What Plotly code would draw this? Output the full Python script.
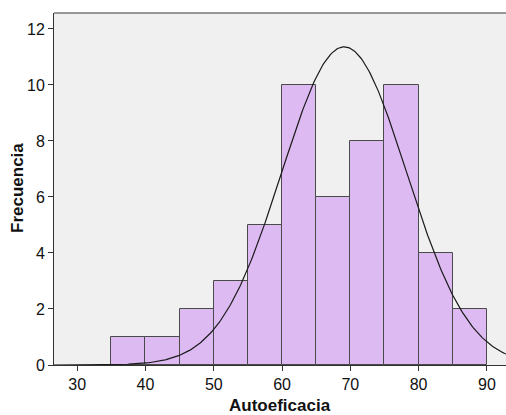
import numpy as np
import plotly.graph_objects as go

bin_starts = [35, 40, 45, 50, 55, 60, 65, 70, 75, 80, 85]
counts = [1, 1, 2, 3, 5, 10, 6, 8, 10, 4, 2]
bin_width = 5
mean_val = 69.1
sd_val = 9.13
x_ticks = [30, 40, 50, 60, 70, 80, 90]
y_ticks = [0, 2, 4, 6, 8, 10, 12]
x_title = "Autoeficacia"
y_title = "Frecuencia"

n = sum(counts)
centers = [s + bin_width / 2 for s in bin_starts]
xs = np.linspace(26.6, 92.8, 400)
ys = n * bin_width / (sd_val * np.sqrt(2 * np.pi)) * np.exp(-0.5 * ((xs - mean_val) / sd_val) ** 2)

fig = go.Figure()
fig.add_trace(go.Bar(
    x=centers, y=counts, width=bin_width,
    marker=dict(color="#DDBAF2", line=dict(color="#4a4a4a", width=1)),
    hoverinfo="skip", showlegend=False,
))
fig.add_trace(go.Scatter(
    x=xs, y=ys, mode="lines",
    line=dict(color="#1a1a1a", width=1.2),
    hoverinfo="skip", showlegend=False,
))

fig.update_layout(
    width=506, height=415,
    margin=dict(l=54, r=0, t=13, b=50),
    paper_bgcolor="white",
    plot_bgcolor="#F0F0F0",
    font=dict(family="Liberation Sans, Arial, sans-serif", size=16, color="#111"),
    bargap=0,
    xaxis=dict(
        range=[26.6, 92.8], tickvals=x_ticks, ticks="outside", ticklen=5,
        tickcolor="#333", showgrid=False, zeroline=False, automargin=False,
        showline=True, linecolor="#333", linewidth=1, mirror=False,
        tickfont=dict(size=16),
    ),
    yaxis=dict(
        range=[0, 12.57], tickvals=y_ticks, ticks="outside", ticklen=5,
        tickcolor="#333", showgrid=False, zeroline=False, automargin=False,
        showline=True, linecolor="#333", linewidth=1, mirror=False,
        tickfont=dict(size=16),
    ),
    shapes=[dict(type="line", xref="paper", yref="paper", x0=0, x1=1, y0=1, y1=1,
                 line=dict(color="#777", width=1.5))],
    annotations=[
        dict(text="<b>" + x_title + "</b>", xref="paper", yref="paper", x=0.5, y=0,
             xanchor="center", yanchor="middle", yshift=-40, showarrow=False,
             font=dict(size=17, color="#111")),
        dict(text="<b>" + y_title + "</b>", xref="paper", yref="paper", x=0, y=0.5,
             xanchor="center", yanchor="middle", xshift=-37, yshift=1, textangle=-90,
             showarrow=False, font=dict(size=17, color="#111")),
    ],
)

fig.write_html(
    "out.html",
    config={"displayModeBar": False},
    post_script="document.body.style.margin='0';document.body.style.overflow='hidden';",
)
